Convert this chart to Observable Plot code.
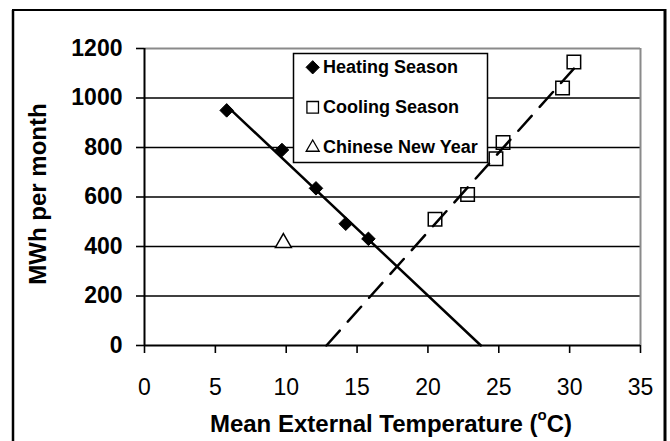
<!DOCTYPE html>
<html>
<head>
<meta charset="utf-8">
<script src="https://cdn.jsdelivr.net/npm/d3@7"></script>
<script src="https://cdn.jsdelivr.net/npm/@observablehq/plot@0.6"></script>
<style>
  html, body { margin: 0; padding: 0; background: white; overflow: hidden; }
  #chart { position: absolute; left: 0; top: 0; }
</style>
</head>
<body>
<div id="chart"></div>
<script>
// ---- data ----
const heatTemp = [5.8, 9.7, 12.1, 14.2, 15.8];
const heatMWh  = [950, 790, 635, 492, 431];
const coolTemp = [20.5, 22.8, 24.8, 25.3, 29.5, 30.3];
const coolMWh  = [510, 610, 755, 820, 1040, 1145];
const cnyTemp  = [9.8];
const cnyMWh   = [415];
const xTicks = [0, 5, 10, 15, 20, 25, 30, 35];
const yTicks = [0, 200, 400, 600, 800, 1000, 1200];
const gridTicks = [200, 400, 600, 800, 1000];
const legendLabels = ["Heating Season", "Cooling Season", "Chinese New Year"];
const xTitle = "Mean External Temperature (";
const yTitle = "MWh per month";

const font = "'Liberation Sans', Arial, sans-serif";

// tables
const heat = heatTemp.map((t, i) => ({t, v: heatMWh[i]}));
const cool = coolTemp.map((t, i) => ({t, v: coolMWh[i]}));
const cny  = cnyTemp.map((t, i) => ({t, v: cnyMWh[i]}));

function fit(xs, ys) {
  const mx = d3.mean(xs), my = d3.mean(ys);
  const sxy = d3.sum(xs, (x, i) => (x - mx) * (ys[i] - my));
  const sxx = d3.sum(xs, x => (x - mx) ** 2);
  const b = sxy / sxx, a = my - b * mx;
  return {a, b};
}
const hf = fit(heatTemp, heatMWh);
const cf = fit(coolTemp, coolMWh);
const hMin = d3.min(heatTemp);
const heatTrend = [{t: hMin, v: hf.a + hf.b * hMin}, {t: -hf.a / hf.b, v: 0}];
const cMax = d3.max(coolTemp);
const coolTrend = [{t: -cf.a / cf.b, v: 0}, {t: cMax, v: cf.a + cf.b * cMax}];

const plot = Plot.plot({
  width: 670,
  height: 441,
  marginLeft: 144,
  marginRight: 30,
  marginTop: 48,
  marginBottom: 96,
  style: {fontFamily: font, background: "transparent", overflow: "visible"},
  x: {domain: [0, 35]},
  y: {domain: [0, 1200]},
  marks: [
    Plot.ruleY(gridTicks, {y: d => d, stroke: "black", strokeWidth: 1.3}),
    Plot.ruleY([1200], {stroke: "#8a8a8a", strokeWidth: 2}),
    Plot.ruleX([35], {stroke: "#8a8a8a", strokeWidth: 2}),
    Plot.axisY({ticks: yTicks, tickSize: 8, tickPadding: 14, fontSize: 23, fontWeight: "bold",
                tickFormat: d => String(d), label: null, stroke: "black", strokeWidth: 1.6, color: "black"}),
    Plot.axisX({ticks: xTicks, tickSize: 8, tickPadding: 25, fontSize: 23,
                tickFormat: d => String(d), label: null, stroke: "black", strokeWidth: 1.6, color: "black"}),
    Plot.ruleX([0], {stroke: "black", strokeWidth: 2}),
    Plot.ruleY([0], {stroke: "black", strokeWidth: 2}),
    Plot.dot(cool, {x: "t", y: "v", symbol: "square2", r: 8.6, fill: "none", stroke: "black", strokeWidth: 1.5}),
    Plot.line(heatTrend, {x: "t", y: "v", stroke: "black", strokeWidth: 2.5}),
    Plot.line(coolTrend, {x: "t", y: "v", stroke: "black", strokeWidth: 2.5, strokeDasharray: "20,12"}),
    Plot.dot(heat, {x: "t", y: "v", symbol: "diamond2", r: 6.1, fill: "black", stroke: "black", strokeWidth: 1}),
    Plot.dot(cny, {x: "t", y: "v", symbol: "triangle2", r: 7.6, fill: "white", stroke: "black", strokeWidth: 1.5})
  ]
});
document.getElementById("chart").appendChild(plot);

const svg = d3.select(plot);

// axis titles
const xt = svg.append("text")
  .attr("x", 391).attr("y", 432)
  .attr("text-anchor", "middle")
  .attr("font-family", font).attr("font-size", 24).attr("font-weight", "bold")
  .attr("fill", "black");
xt.append("tspan").text(xTitle);
xt.append("tspan").attr("dy", -12).attr("font-size", 15).text("o");
xt.append("tspan").attr("dy", 12).text("C)");

svg.append("text")
  .attr("transform", "translate(46,194) rotate(-90)")
  .attr("text-anchor", "middle")
  .attr("font-family", font).attr("font-size", 24).attr("font-weight", "bold")
  .attr("fill", "black")
  .text(yTitle);

// legend
const lg = svg.append("g").attr("text-anchor", "start");
lg.append("rect").attr("x", 293.5).attr("y", 53.5).attr("width", 194).attr("height", 109)
  .attr("fill", "white").attr("stroke", "black").attr("stroke-width", 1.5);
const lsym = [
  {s: d3.symbolDiamond2, size: 113, fill: "black", cy: 67.3},
  {s: d3.symbolSquare2, size: 170, fill: "white", cy: 107.3},
  {s: d3.symbolTriangle2, size: 121, fill: "white", cy: 147.5}
];
lsym.forEach((d, i) => {
  lg.append("path").attr("d", d3.symbol(d.s, d.size)())
    .attr("transform", `translate(312.7,${d.cy})`)
    .attr("fill", d.fill).attr("stroke", "black").attr("stroke-width", i === 0 ? 1 : 1.3);
  lg.append("text").attr("x", 323).attr("y", 73.3 + 40 * i)
    .attr("text-anchor", "start")
    .attr("font-family", font).attr("font-size", 18).attr("font-weight", "bold")
    .attr("fill", "black").text(legendLabels[i]);
});

// outer figure border
const bd = svg.append("g").attr("stroke", "black").attr("fill", "none");
bd.append("line").attr("x1", 13).attr("y1", 10).attr("x2", 13).attr("y2", 445).attr("stroke-width", 2.5);
bd.append("line").attr("x1", 12).attr("y1", 10).attr("x2", 666).attr("y2", 10).attr("stroke-width", 2.2);
bd.append("line").attr("x1", 665).attr("y1", 9).attr("x2", 665).attr("y2", 445).attr("stroke-width", 3);
</script>
</body>
</html>
